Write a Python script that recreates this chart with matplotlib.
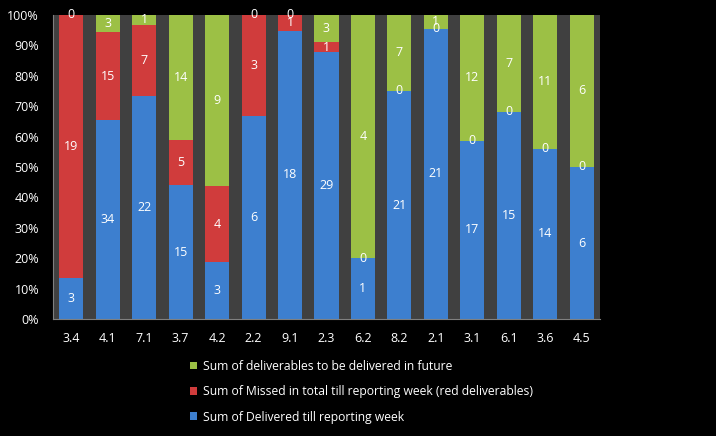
import numpy as np
import matplotlib.pyplot as plt

categories = ['3.4', '4.1', '7.1', '3.7', '4.2', '2.2', '9.1', '2.3',
              '6.2', '8.2', '2.1', '3.1', '6.1', '3.6', '4.5']
delivered = [3, 34, 22, 15, 3, 6, 18, 29, 1, 21, 21, 17, 15, 14, 6]
missed = [19, 15, 7, 5, 4, 3, 1, 1, 0, 0, 0, 0, 0, 0, 0]
future = [0, 3, 1, 14, 9, 0, 0, 3, 4, 7, 1, 12, 7, 11, 6]
series_names = ['Sum of Delivered till reporting week',
                'Sum of Missed in total till reporting week (red deliverables)',
                'Sum of deliverables to be delivered in future']
colors = ['#3d7fcf', '#d03c3c', '#9cc045']

plt.rcParams['font.family'] = ['Open Sans', 'DejaVu Sans']
fig = plt.figure(figsize=(7.16, 4.36), dpi=100, facecolor='black')
ax = fig.add_axes([0.074, 0.268, 0.764, 0.698])
ax.set_facecolor('#404040')

data = np.array([delivered, missed, future], dtype=float)
totals = data.sum(axis=0)
pct = data / totals * 100
x = np.arange(len(categories))
bottom = np.zeros(len(categories))
handles = []
for i in range(3):
    b = ax.bar(x, pct[i], 0.66, bottom=bottom, color=colors[i],
               edgecolor='none', label=series_names[i])
    handles.append(b)
    for j in range(len(categories)):
        ax.text(x[j], bottom[j] + pct[i][j] / 2, str(int(data[i][j])),
                ha='center', va='center', color='white', fontsize=9)
    bottom += pct[i]

ax.set_xlim(-0.5, len(categories) - 0.5)
ax.set_ylim(0, 100)
ax.set_yticks(np.arange(0, 101, 10))
ax.set_yticklabels(['{}%'.format(v) for v in range(0, 101, 10)])
ax.set_xticks(x)
ax.set_xticklabels(categories)
ax.tick_params(colors='white', labelsize=9, length=0)
ax.tick_params(axis='x', pad=9)
ax.tick_params(axis='y', pad=10)
for s in ax.spines.values():
    s.set_visible(False)
ax.spines['left'].set_visible(True)
ax.spines['bottom'].set_visible(True)
ax.spines['left'].set_color('#808080')
ax.spines['bottom'].set_color('#808080')

leg = fig.legend(handles[::-1], series_names[::-1], loc='upper left',
                 bbox_to_anchor=(0.253, 0.194), frameon=False,
                 fontsize=8.7, labelcolor='white', handlelength=0.6,
                 handleheight=0.6, handletextpad=0.5, labelspacing=1.02,
                 borderpad=0.2)

fig.savefig('out.png', dpi=100, facecolor='black')
